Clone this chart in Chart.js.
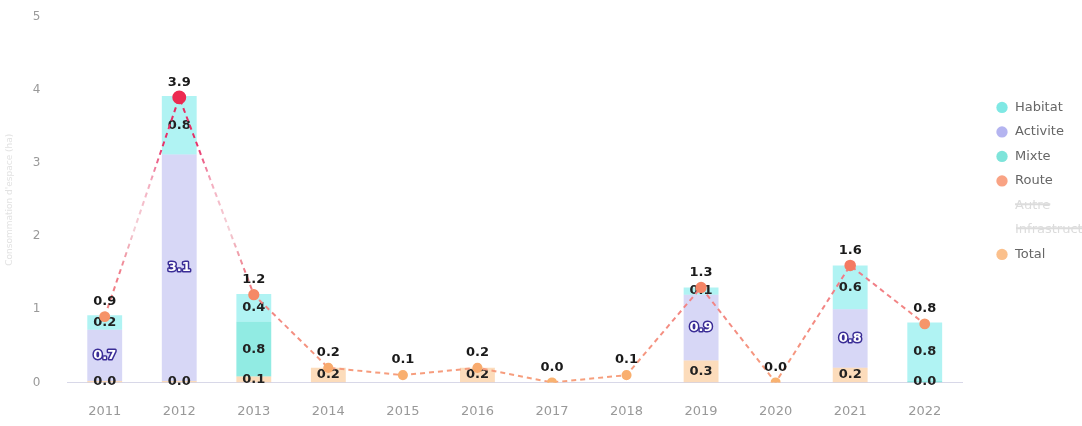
<!DOCTYPE html>
<html lang="fr">
<head>
<meta charset="utf-8">
<title>Consommation par destination</title>
<script src="https://cdn.jsdelivr.net/npm/chart.js@4.4.1/dist/chart.umd.min.js"></script>
<style>
  html, body { margin: 0; padding: 0; background: #fff; }
  #wrap { width: 1082px; height: 426px; }
</style>
</head>
<body>
<div id="wrap"><canvas id="consoChart" width="1082" height="426"></canvas></div>
<script>
// Données
const annees   = ['2011', '2012', '2013', '2014', '2015', '2016', '2017', '2018', '2019', '2020', '2021', '2022'];
const route    = [0.02, 0.02, 0.08, 0.2, null, 0.2, null, null, 0.3, null, 0.2, null];
const habitat  = [null, null, 0.75, null, null, null, null, null, null, null, null, 0.02];
const activite = [0.7, 3.1, null, null, null, null, null, null, 0.9, null, 0.8, null];
const mixte    = [0.2, 0.8, 0.38, null, null, null, null, null, 0.1, null, 0.6, 0.8];
const autre    = [null, null, null, null, 0.1, null, 0.02, 0.1, null, 0.02, null, null];
const infra    = [null, null, null, null, null, null, null, null, null, null, null, null];
const total    = [0.9, 3.9, 1.2, 0.2, 0.1, 0.2, 0.0, 0.1, 1.3, 0.0, 1.6, 0.8];
const graduations = [0, 1, 2, 3, 4, 5];

const POLICE = '"DejaVu Sans", sans-serif';

// mélange orange -> rouge selon la valeur du total
function couleurPoint(v) {
    const t = Math.max(0, Math.min(1, v / 4));
    const a = [249, 178, 112], b = [236, 40, 80];
    const c = a.map((x, i) => Math.round(x + (b[i] - x) * t));
    return 'rgb(' + c.join(',') + ')';
}

function degradeLigne(context) {
    const area = context.chart.chartArea;
    if (!area) return '#f08080';
    const g = context.chart.ctx.createLinearGradient(0, area.bottom, 0, area.top);
    g.addColorStop(0, '#f7a07c');
    g.addColorStop(0.3, '#f07a88');
    g.addColorStop(0.42, 'rgba(225,120,140,0.35)');
    g.addColorStop(0.55, 'rgba(230,70,110,0.45)');
    g.addColorStop(0.64, '#e8336b');
    g.addColorStop(1, '#e0204f');
    return g;
}

// étiquettes des valeurs
const etiquettes = {
    id: 'etiquettes',
    afterDatasetDraw(chart, args) {
        const ds = chart.data.datasets[args.index];
        const ctx = chart.ctx;
        ctx.save();
        ctx.textAlign = 'center';
        ctx.textBaseline = 'middle';
        ctx.font = 'bold 13px ' + POLICE;
        ctx.lineJoin = 'round';
        args.meta.data.forEach((el, i) => {
            const v = ds.data[i];
            if (v === null || v === undefined) return;
            const txt = v.toFixed(1);
            if (ds.type === 'line') {
                ctx.fillStyle = '#1a1a1a';
                ctx.fillText(txt, el.x, el.y - 15);
                return;
            }
            const y = (el.y + el.base) / 2;
            if (ds.contour) {
                ctx.lineWidth = 3;
                ctx.strokeStyle = ds.contour;
                ctx.strokeText(txt, el.x, y);
                ctx.fillStyle = '#fff';
                ctx.fillText(txt, el.x, y);
            } else {
                ctx.fillStyle = '#222';
                ctx.fillText(txt, el.x, y);
            }
        });
        ctx.restore();
    }
};

// décale la légende vers la droite
const decaleLegende = {
    id: 'decaleLegende',
    afterLayout(chart) {
        if (chart.legend) {
            chart.legend.left += 22;
            chart.legend.right += 22;
        }
    }
};

const ctx = document.getElementById('consoChart').getContext('2d');
const consoChart = new Chart(ctx, {
    data: {
        labels: annees,
        datasets: [
            { type: 'bar', label: 'Habitat', data: habitat, order: 2, backgroundColor: 'rgba(72,222,208,0.6)', couleurLegende: '#7fe8e4' },
            { type: 'bar', label: 'Activite', data: activite, order: 3, backgroundColor: 'rgba(150,150,232,0.38)', couleurLegende: '#b4b4f0', contour: '#3a2d96' },
            { type: 'bar', label: 'Mixte', data: mixte, order: 4, backgroundColor: 'rgba(80,228,228,0.45)', couleurLegende: '#7ee4da' },
            { type: 'bar', label: 'Route', data: route, order: 1, backgroundColor: 'rgba(250,185,120,0.5)', couleurLegende: '#f9a384' },
            { type: 'bar', label: 'Autre', data: autre, order: 5, backgroundColor: 'rgba(230,230,230,0.4)', hidden: true },
            { type: 'bar', label: 'Infrastructure', data: infra, order: 6, backgroundColor: 'rgba(230,230,230,0.4)', hidden: true },
            {
                type: 'line', label: 'Total', data: total, order: 0, stack: 'total',
                borderColor: degradeLigne, borderWidth: 2, borderDash: [5, 4],
                backgroundColor: '#f9b070', couleurLegende: '#fbc08c',
                pointBackgroundColor: c => couleurPoint(c.raw || 0),
                pointBorderColor: c => couleurPoint(c.raw || 0),
                pointRadius: c => 4 + Math.min(2, (c.raw || 0) * 0.5),
                pointHoverRadius: 6,
                pointStyle: 'circle',
                fill: false, tension: 0
            }
        ]
    },
    options: {
        responsive: false,
        animation: false,
        layout: { autoPadding: false, padding: { top: 17, right: 0, bottom: 5, left: 4 } },
        datasets: { bar: { barPercentage: 0.55, categoryPercentage: 0.85 } },
        scales: {
            x: {
                stacked: true,
                grid: { display: false, drawTicks: true, tickLength: 19 },
                border: { display: true, color: '#d8d8e8', dash: [2, 2] },
                ticks: { color: '#999', font: { family: POLICE, size: 13 }, padding: 2 }
            },
            y: {
                stacked: true,
                min: 0, max: 5,
                afterBuildTicks: axis => { axis.ticks = graduations.map(v => ({ value: v })); },
                grid: { display: false, drawTicks: true, tickLength: 25 },
                border: { display: false },
                title: { display: true, text: "Consommation d'espace (ha)", color: '#e2e2e2', font: { family: POLICE, size: 9 }, padding: { top: 0, bottom: 16 } },
                ticks: { color: '#999', font: { family: POLICE, size: 12 }, padding: 2 }
            }
        },
        plugins: {
            legend: {
                position: 'right',
                align: 'start',
                maxWidth: 120,
                title: { display: true, text: '', padding: { top: 0, bottom: 58 } },
                labels: {
                    usePointStyle: true,
                    pointStyle: 'circle',
                    boxWidth: 13, boxHeight: 8,
                    padding: 11.5,
                    color: '#666',
                    font: { family: POLICE, size: 13 },
                    sort: (a, b) => a.datasetIndex - b.datasetIndex,
                    generateLabels: chart => {
                        const items = Chart.defaults.plugins.legend.labels.generateLabels(chart);
                        items.forEach(it => {
                            const ds = chart.data.datasets[it.datasetIndex];
                            if (it.hidden) {
                                it.fillStyle = 'rgba(0,0,0,0)';
                                it.strokeStyle = 'rgba(0,0,0,0)';
                                it.fontColor = '#dcdcdc';
                            } else if (ds.couleurLegende) {
                                it.fillStyle = ds.couleurLegende;
                                it.strokeStyle = ds.couleurLegende;
                                it.lineWidth = 0;
                            }
                        });
                        return items;
                    }
                }
            },
            tooltip: { enabled: true }
        }
    },
    plugins: [etiquettes, decaleLegende]
});
</script>
</body>
</html>
